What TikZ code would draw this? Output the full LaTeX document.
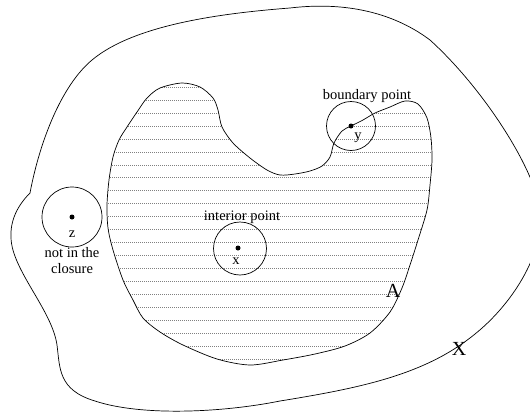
\documentclass[tikz,border=0pt]{standalone}
\usepackage{fontspec}
\setmainfont{Liberation Serif}
\usetikzlibrary{calc}

\tikzset{
  lbl/.style={font=\fontsize{14.5}{17}\selectfont, inner sep=0pt, anchor=base},
  biglbl/.style={font=\fontsize{20}{22}\selectfont, inner sep=0pt, anchor=base},
  ptdot/.style={circle, fill, inner sep=0pt, minimum size=5pt},
  hatch/.style={gray, line width=0.4pt, dash pattern=on 0.4pt off 1.6pt}
}

\begin{document}
\begin{tikzpicture}[x=1pt,y=-1pt,line width=0.7pt]
  \useasboundingbox (0,0) rectangle (530,413);
  \clip (0,0) rectangle (530,413);

  % the set A
  \def\setA{(182,83) (200,87) (213,98) (218,110) (222,127) (233,143) (250,158)
    (267,170) (280,175) (295,174) (310,171) (322,166) (330,157) (334,143)
    (342,131) (351,126) (363,120) (375,113) (390,107) (405,101) (418,104)
    (427,118) (431,138) (432,160) (430,185) (427,210) (418,240) (410,265)
    (402,288) (390,312) (370,333) (345,346) (315,354) (283,360) (250,365)
    (217,359) (183,345) (160,332) (143,318) (133,300) (123,280) (113,250)
    (108,228) (107,205) (109,180) (113,157) (119,140) (127,127) (137,112)
    (147,98) (160,88)}
  \begin{scope}
    \clip plot[smooth cycle, tension=0.5] coordinates {\setA};
    \foreach \k in {0,...,21}
      \draw[hatch] (100,87+12.95*\k) -- (440,87+12.95*\k);
  \end{scope}
  \draw plot[smooth cycle, tension=0.5] coordinates {\setA};

  % the space X
  \draw (30,193) .. controls (18,205) and (10,220) .. (11,238)
    .. controls (12,270) and (52,310) .. (57,345)
    .. controls (60,368) and (58,390) .. (95,401)
    .. controls (140,416) and (220,413) .. (280,401)
    .. controls (360,388) and (425,375) .. (475,334)
    .. controls (510,306) and (545,255) .. (540,210)
    .. controls (535,170) and (485,90) .. (430,40)
    .. controls (390,10) and (340,2) .. (290,8)
    .. controls (225,13) and (135,24) .. (92,60)
    .. controls (62,85) and (40,140) .. (30,193);

  % points
  \node[ptdot] (z) at (72,217) {};
  \draw (z.center) circle[radius=30pt];
  \node[lbl] (zlabel) at (72,237) {z};
  \node[lbl] (closure1) at (72,257) {not in the};
  \node[lbl] (closure2) at (72,273) {closure};

  \node[ptdot] (x) at (238,248) {};
  \draw (240,248.5) circle[radius=26.5pt];
  \node[lbl] (xlabel) at (236,264) {x};
  \node[lbl] (interior) at (242,220) {interior point};

  \node[ptdot] (y) at (351,126) {};
  \draw (y.center) circle[radius=24.5pt];
  \node[lbl] (ylabel) at (358,139) {y};
  \node[lbl] (boundary) at (367,99) {boundary point};

  \node[biglbl] (A) at (393,297) {A};
  \node[biglbl] (X) at (459,355) {X};
\end{tikzpicture}
\end{document}
